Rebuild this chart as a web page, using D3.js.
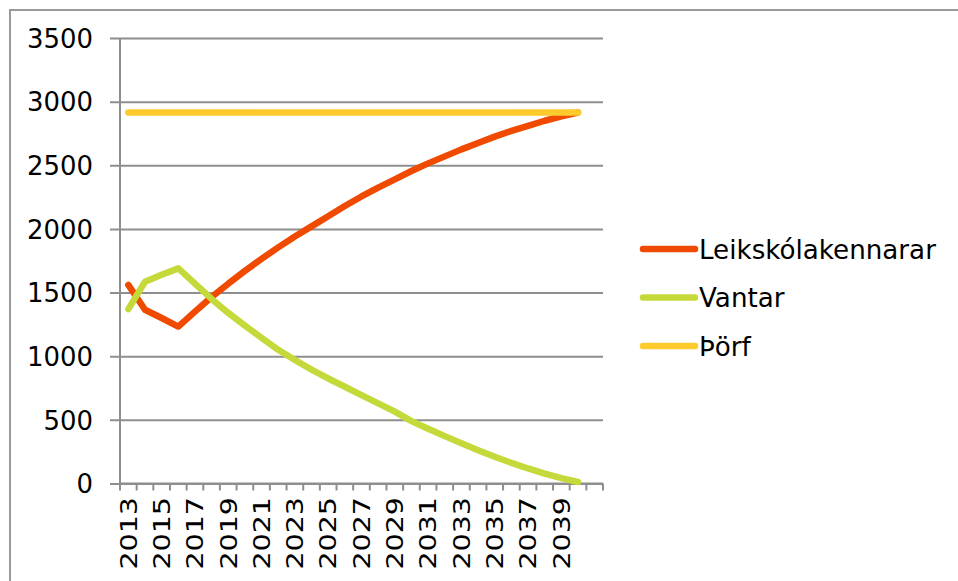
<!DOCTYPE html>
<html>
<head>
<meta charset="utf-8">
<script src="https://cdn.jsdelivr.net/npm/d3@7"></script>
<style>
html,body{margin:0;padding:0;background:#fff;}
svg{display:block;}
text{font-family:"DejaVu Sans",Verdana,sans-serif;fill:#000;}
</style>
</head>
<body>
<svg id="chart" width="958" height="581"></svg>
<script>
// ---- data ----
const categories = ["2013","2014","2015","2016","2017","2018","2019","2020","2021","2022","2023","2024","2025","2026","2027","2028","2029","2030","2031","2032","2033","2034","2035","2036","2037","2038","2039","2040",""];
const seriesNames = ["Leikskólakennarar","Vantar","Þörf"];
const leikskolakennarar = [1560,1365,1300,1233,1350,1465,1570,1670,1765,1855,1940,2020,2100,2180,2255,2325,2390,2455,2515,2570,2625,2675,2725,2770,2810,2850,2885,2915];
const vantar = [1370,1585,1640,1690,1570,1450,1340,1240,1145,1050,970,895,825,760,695,630,565,490,430,372,316,262,210,162,118,78,42,12];
const thorf = [2915,2915,2915,2915,2915,2915,2915,2915,2915,2915,2915,2915,2915,2915,2915,2915,2915,2915,2915,2915,2915,2915,2915,2915,2915,2915,2915,2915];
const yTicks = [0,500,1000,1500,2000,2500,3000,3500];
const colors = ["#EF4A00","#C5D93A","#FFCA2C"];

// ---- layout ----
const svg = d3.select("#chart");
const plotLeft = 120, plotRight = 603, plotTop = 38, plotBottom = 483.5;
const grid = "#8e8e8e";

// outer frame (extends beyond view)
svg.append("rect").attr("x",10).attr("y",10).attr("width",1200).attr("height",1200)
  .attr("fill","none").attr("stroke","#9a9a9a").attr("stroke-width",2);

const x = d3.scaleBand().domain(categories.map((c,i)=>i)).range([plotLeft,plotRight]).padding(0);
const y = d3.scaleLinear().domain([0,3500]).range([plotBottom,plotTop]);

// gridlines + y ticks
const yAxis = d3.axisLeft(y).tickValues(yTicks).tickSize(-(plotRight-plotLeft)).tickSizeOuter(0).tickFormat("");
const gy = svg.append("g").attr("transform",`translate(${plotLeft},0)`).call(yAxis);
gy.select(".domain").remove();
gy.selectAll(".tick line").attr("stroke",grid).attr("stroke-width",2).attr("x1",-10);

// y labels
svg.append("g").selectAll("text").data(yTicks).join("text")
  .attr("transform",d=>`translate(93,${y(d)}) scale(0.96,1)`)
  .attr("text-anchor","end").attr("dy","0.36em")
  .style("font-size","27px").text(d=>d);

// y axis line
svg.append("line").attr("x1",plotLeft).attr("x2",plotLeft).attr("y1",plotTop).attr("y2",plotBottom)
  .attr("stroke",grid).attr("stroke-width",2);

// x axis line and ticks
svg.append("line").attr("x1",plotLeft-1).attr("x2",plotRight).attr("y1",plotBottom).attr("y2",plotBottom)
  .attr("stroke",grid).attr("stroke-width",2);
const bounds = d3.range(categories.length+1).map(i=> i<categories.length ? x(i) : x(categories.length-1)+x.bandwidth());
svg.append("g").selectAll("line").data(bounds).join("line")
  .attr("x1",d=>d).attr("x2",d=>d).attr("y1",plotBottom).attr("y2",plotBottom+7)
  .attr("stroke",grid).attr("stroke-width",2);

// x labels every 2nd category
svg.append("g").selectAll("text")
  .data(categories.map((c,i)=>({c,i})).filter(d=>d.i%2===0 && d.c!==""))
  .join("text")
  .attr("transform",d=>`translate(${x(d.i)+x.bandwidth()/2},497) rotate(-90) scale(1.24,1)`)
  .attr("text-anchor","end").attr("dy","0.36em")
  .style("font-size","23px").text(d=>d.c);

// lines
const cx = i => x(i)+x.bandwidth()/2;
const line = d3.line().x((d,i)=>cx(i)).y(d=>y(d));
const allSeries = [leikskolakennarar, vantar, thorf];
svg.append("g").selectAll("path").data(allSeries).join("path")
  .attr("d",d=>line(d)).attr("fill","none")
  .attr("stroke",(d,i)=>colors[i]).attr("stroke-width",6.5)
  .attr("stroke-linecap","round").attr("stroke-linejoin","round");

// legend
const legY = [249,297.5,346];
const lg = svg.append("g").selectAll("g").data(seriesNames).join("g");
lg.append("line").attr("x1",643).attr("x2",695).attr("y1",(d,i)=>legY[i]).attr("y2",(d,i)=>legY[i])
  .attr("stroke",(d,i)=>colors[i]).attr("stroke-width",6.5).attr("stroke-linecap","round");
lg.append("text").attr("transform",(d,i)=>`translate(699,${legY[i]}) scale(0.97,1)`)
  .attr("dy","0.36em").style("font-size","27px").text(d=>d);
</script>
</body>
</html>
